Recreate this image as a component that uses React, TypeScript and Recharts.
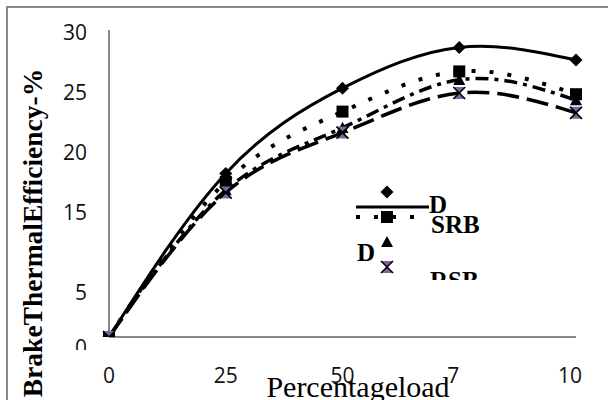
import React from 'react';
import { LineChart, Line, XAxis, YAxis } from 'recharts';

// Percentage load on the engine
const loads = [0, 25, 50, 75, 100];

// Brake thermal efficiency (%) for each fuel
const effD = [4.67, 18.3, 25.4, 28.8, 27.75];
const effSRB = [4.67, 17.6, 23.45, 26.8, 24.9];
const effBlend = [4.67, 16.9, 22.1, 26.1, 24.4];
const effRSB = [4.67, 16.7, 21.7, 25.0, 23.35];

const seriesNames = ['D', 'SRB', 'D', 'RSB'];

// Axis ticks
const xTickLabels = ['0', '25', '50', '75', '100'];
const xTickShown = ['0', '25', '50', '7', '10'];
const yTickValues = [30, 25, 20, 15, 8.4, 4.67];
const yTickLabels = ['30', '25', '20', '15', '5', '0'];

const rows = loads.map((load, i) => ({
  load,
  d: effD[i],
  srb: effSRB[i],
  blend: effBlend[i],
  rsb: effRSB[i],
}));

const AXIS_GREY = '#8a8a8a';
const TICK_FONT = '"Open Sans", sans-serif';
const TICK_SIZE = 21;
const SERIF = '"Liberation Serif", "Times New Roman", serif';
const PURPLE = '#8064a2';

type MarkProps = { cx: number; cy: number };

const DiamondMark = ({ cx, cy }: MarkProps) => {
  const r = 6.5;
  return (
    <polygon
      points={`${cx},${cy - r} ${cx + r},${cy} ${cx},${cy + r} ${cx - r},${cy}`}
      fill="#000"
    />
  );
};

const SquareMark = ({ cx, cy }: MarkProps) => {
  const r = 6;
  return <rect x={cx - r} y={cy - r} width={2 * r} height={2 * r} fill="#000" />;
};

const TriangleMark = ({ cx, cy }: MarkProps) => {
  const r = 6;
  return (
    <polygon
      points={`${cx},${cy - r} ${cx + r},${cy + r * 0.85} ${cx - r},${cy + r * 0.85}`}
      fill="#000"
    />
  );
};

const CrossMark = ({ cx, cy }: MarkProps) => {
  const r = 6;
  return (
    <g>
      <polygon
        points={`${cx - r},${cy - r} ${cx + r},${cy - r} ${cx},${cy} ${cx + r},${cy + r} ${cx - r},${cy + r} ${cx},${cy}`}
        fill={PURPLE}
      />
      <line x1={cx - r} y1={cy - r} x2={cx + r} y2={cy + r} stroke="#000" strokeWidth={1.6} />
      <line x1={cx + r} y1={cy - r} x2={cx - r} y2={cy + r} stroke="#000" strokeWidth={1.6} />
    </g>
  );
};

const series = [
  { key: 'd', name: seriesNames[0], Mark: DiamondMark, dash: undefined as string | undefined, width: 3 },
  { key: 'srb', name: seriesNames[1], Mark: SquareMark, dash: '4 14', width: 4 },
  { key: 'blend', name: seriesNames[2], Mark: TriangleMark, dash: '13 6 4 6', width: 3.5 },
  { key: 'rsb', name: seriesNames[3], Mark: CrossMark, dash: '22 8', width: 3.5 },
];

const XTick = (props: any) => {
  const { x, y, payload } = props;
  const i = loads.indexOf(payload.value);
  const full = xTickLabels[i];
  const shown = xTickShown[i];
  const digitW = 0.572 * TICK_SIZE;
  const start = x - (full.length * digitW) / 2;
  return (
    <text
      x={start}
      y={y}
      dy="0.71em"
      textAnchor="start"
      fontFamily={TICK_FONT}
      fontSize={TICK_SIZE}
      fill="#111"
    >
      {shown}
    </text>
  );
};

const YTick = (props: any) => {
  const { x, y, payload } = props;
  const i = yTickValues.indexOf(payload.value);
  const label = yTickLabels[i];
  const last = i === yTickValues.length - 1;
  return (
    <g>
      {last && (
        <defs>
          <clipPath id="ytick-bottom-clip">
            <rect x={0} y={0} width={108} height={350} />
          </clipPath>
        </defs>
      )}
      <text
        x={x}
        y={y + (last ? 11 : 0)}
        dy="0.355em"
        textAnchor="end"
        fontFamily={TICK_FONT}
        fontSize={TICK_SIZE}
        fill="#111"
        clipPath={last ? 'url(#ytick-bottom-clip)' : undefined}
      >
        {label}
      </text>
    </g>
  );
};

const YTitle = () => (
  <text
    x={42}
    y={233}
    transform="rotate(-90, 42, 233)"
    textAnchor="middle"
    fontFamily={SERIF}
    fontWeight="bold"
    fontSize={27.5}
    fill="#000"
  >
    BrakeThermalEfficiency-%
  </text>
);

const XTitle = () => (
  <text x={358} y={397} textAnchor="middle" fontFamily={SERIF} fontSize={30} fill="#000">
    Percentageload
  </text>
);

// Legend placed inside the plot, its last row cut off by the box edge
const legendRows = [
  { mark: { cx: 47, cy: 12 }, line: { x1: 16, x2: 89, y: 27 }, text: { x: 89, y: 33 } },
  { mark: { cx: 47, cy: 37 }, line: { x1: 16, x2: 78, y: 37 }, text: { x: 91, y: 53 } },
  { mark: { cx: 47, cy: 62 }, line: null, text: { x: 17, y: 81 } },
  { mark: { cx: 47, cy: 87 }, line: null, text: { x: 90, y: 109 } },
];

const LegendBox = () => (
  <svg
    width={160}
    height={100}
    style={{ position: 'absolute', left: 340, top: 180, overflow: 'hidden' }}
  >
    {series.map((s, i) => {
      const row = legendRows[i];
      const Mark = s.Mark;
      return (
        <g key={s.key}>
          {row.line && (
            <line
              x1={row.line.x1}
              x2={row.line.x2}
              y1={row.line.y}
              y2={row.line.y}
              stroke="#000"
              strokeWidth={s.width}
              strokeDasharray={s.dash}
            />
          )}
          <Mark cx={row.mark.cx} cy={row.mark.cy} />
          <text
            x={row.text.x}
            y={row.text.y}
            fontFamily={SERIF}
            fontWeight="bold"
            fontSize={25}
            fill="#000"
          >
            {s.name}
          </text>
        </g>
      );
    })}
  </svg>
);

export default function App() {
  return (
    <div style={{ position: 'relative', width: 608, height: 400, overflow: 'hidden', background: '#fff' }}>
      <style>{'body{margin:0;}'}</style>
      <div
        style={{
          position: 'absolute',
          left: 6,
          top: 6,
          width: 700,
          height: 500,
          borderTop: `2px solid ${AXIS_GREY}`,
          borderLeft: `2px solid ${AXIS_GREY}`,
        }}
      />
      <LineChart
        width={608}
        height={400}
        data={rows}
        margin={{ top: 30, right: 32, bottom: 0, left: 0 }}
      >
        <XAxis
          dataKey="load"
          type="number"
          domain={[0, 100]}
          ticks={loads}
          height={63}
          axisLine={{ stroke: AXIS_GREY, strokeWidth: 2 }}
          tickLine={false}
          tickSize={0}
          tickMargin={31}
          tick={<XTick />}
          label={<XTitle />}
        />
        <YAxis
          type="number"
          domain={[4.67, 30.25]}
          allowDataOverflow
          ticks={yTickValues}
          width={109}
          axisLine={{ stroke: AXIS_GREY, strokeWidth: 2 }}
          tickLine={false}
          tickSize={0}
          tickMargin={22}
          tick={<YTick />}
          label={<YTitle />}
        />
        {series.map((s) => {
          const Mark = s.Mark;
          return (
            <Line
              key={s.key}
              dataKey={s.key}
              name={s.name}
              type="natural"
              stroke="#000"
              strokeWidth={s.width}
              strokeDasharray={s.dash}
              isAnimationActive={false}
              activeDot={false}
              dot={(p: any) => <Mark key={`${s.key}-${p.index}`} cx={p.cx} cy={p.cy} />}
            />
          );
        })}
      </LineChart>
      <LegendBox />
    </div>
  );
}
